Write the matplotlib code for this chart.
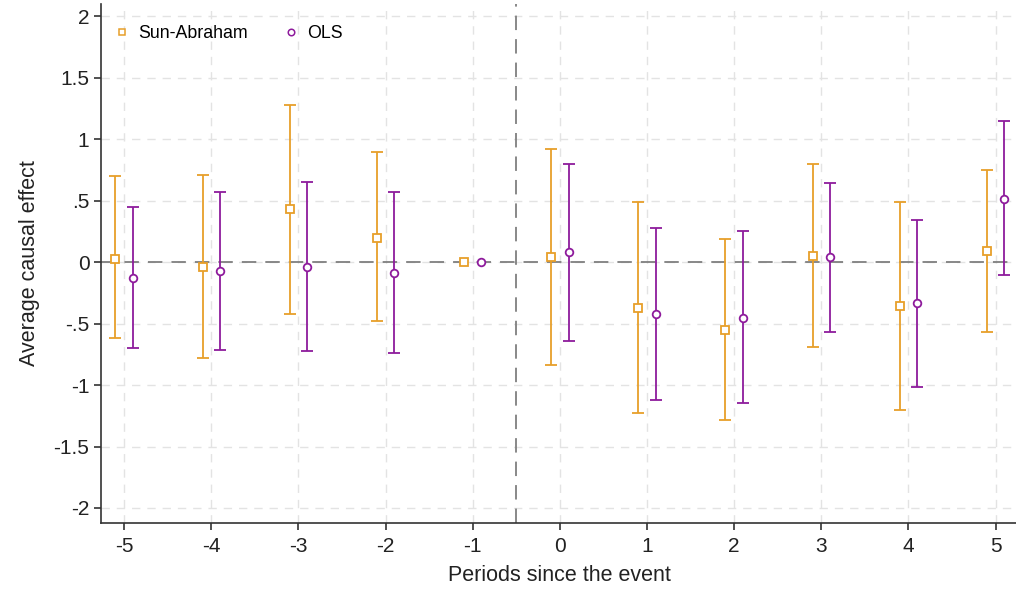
import numpy as np
import matplotlib.pyplot as plt

plt.rcParams['font.family'] = ['Liberation Sans', 'DejaVu Sans']

periods = np.array([-5, -4, -3, -2, -1, 0, 1, 2, 3, 4, 5])

# Sun-Abraham estimates and confidence bounds
sa_est = [0.03, -0.035, 0.43, 0.20, 0.0, 0.04, -0.37, -0.55, 0.05, -0.36, 0.09]
sa_hi = [0.70, 0.71, 1.28, 0.90, 0.0, 0.92, 0.49, 0.19, 0.80, 0.49, 0.75]
sa_lo = [-0.62, -0.78, -0.42, -0.48, 0.0, -0.835, -1.23, -1.28, -0.69, -1.205, -0.57]

# OLS estimates and confidence bounds
ols_est = [-0.13, -0.07, -0.035, -0.085, 0.0, 0.085, -0.425, -0.45, 0.04, -0.335, 0.515]
ols_hi = [0.45, 0.57, 0.655, 0.575, 0.0, 0.80, 0.275, 0.25, 0.645, 0.345, 1.145]
ols_lo = [-0.70, -0.715, -0.725, -0.74, 0.0, -0.645, -1.12, -1.145, -0.57, -1.015, -0.105]

yticks = [-2, -1.5, -1, -0.5, 0, 0.5, 1, 1.5, 2]
ytick_labels = ['-2', '-1.5', '-1', '-.5', '0', '.5', '1', '1.5', '2']

orange = '#E79F2A'
purple = '#8E1B9C'

fig = plt.figure(figsize=(10.16, 5.9), dpi=100)
ax = fig.add_axes([0.099, 0.114, 0.904, 0.879])


def draw(x, est, lo, hi, color, marker, size, label):
    est = np.array(est)
    yerr = np.vstack([est - np.array(lo), np.array(hi) - est])
    has_ci = (yerr.sum(axis=0) > 0)
    ax.errorbar(x[has_ci], est[has_ci], yerr=yerr[:, has_ci], fmt='none',
                ecolor=color, elinewidth=1.3, capsize=4.5, capthick=1.3, zorder=3)
    ax.plot(x, est, linestyle='none', marker=marker, markersize=size,
            markerfacecolor='white', markeredgecolor=color, markeredgewidth=1.3,
            zorder=4, label=label)


draw(periods - 0.1, sa_est, sa_lo, sa_hi, orange, 's', 5.5, 'Sun-Abraham')
draw(periods + 0.1, ols_est, ols_lo, ols_hi, purple, 'o', 5.5, 'OLS')

ax.axhline(0, color='#7f7f7f', linestyle=(0, (8, 5)), linewidth=1.3, zorder=2)
ax.axvline(-0.5, color='#7f7f7f', linestyle=(0, (8, 5)), linewidth=1.3, zorder=2)

ax.set_xlim(-5.27, 5.27)
ax.set_ylim(-2.12, 2.1)
ax.set_xticks(periods)
ax.set_xticklabels([str(p) for p in periods])
ax.set_yticks(yticks)
ax.set_yticklabels(ytick_labels)

ax.grid(True, color='#e3e3e3', linestyle=(0, (6, 5)), linewidth=1.0, zorder=0)
ax.set_axisbelow(True)

for side in ['top', 'right']:
    ax.spines[side].set_visible(False)
for side in ['left', 'bottom']:
    ax.spines[side].set_color('#333333')
    ax.spines[side].set_linewidth(1.2)

ax.tick_params(axis='both', labelsize=15, colors='#222222', length=5, width=1.1,
               direction='out')
ax.tick_params(axis='y', pad=3)
ax.tick_params(axis='x', pad=5)

ax.set_xlabel('Periods since the event', fontsize=15.5, color='#222222', labelpad=7)
ax.set_ylabel('Average causal effect', fontsize=15.5, color='#222222', labelpad=10)

leg = ax.legend(loc='upper left', ncol=2, frameon=False, fontsize=12.8,
                markerscale=0.85, handlelength=0.9, handletextpad=0.45,
                columnspacing=2.0, bbox_to_anchor=(-0.003, 0.99))
for h in leg.legend_handles:
    h.set_markeredgewidth(1.1)

fig.savefig('out.png', dpi=100)
